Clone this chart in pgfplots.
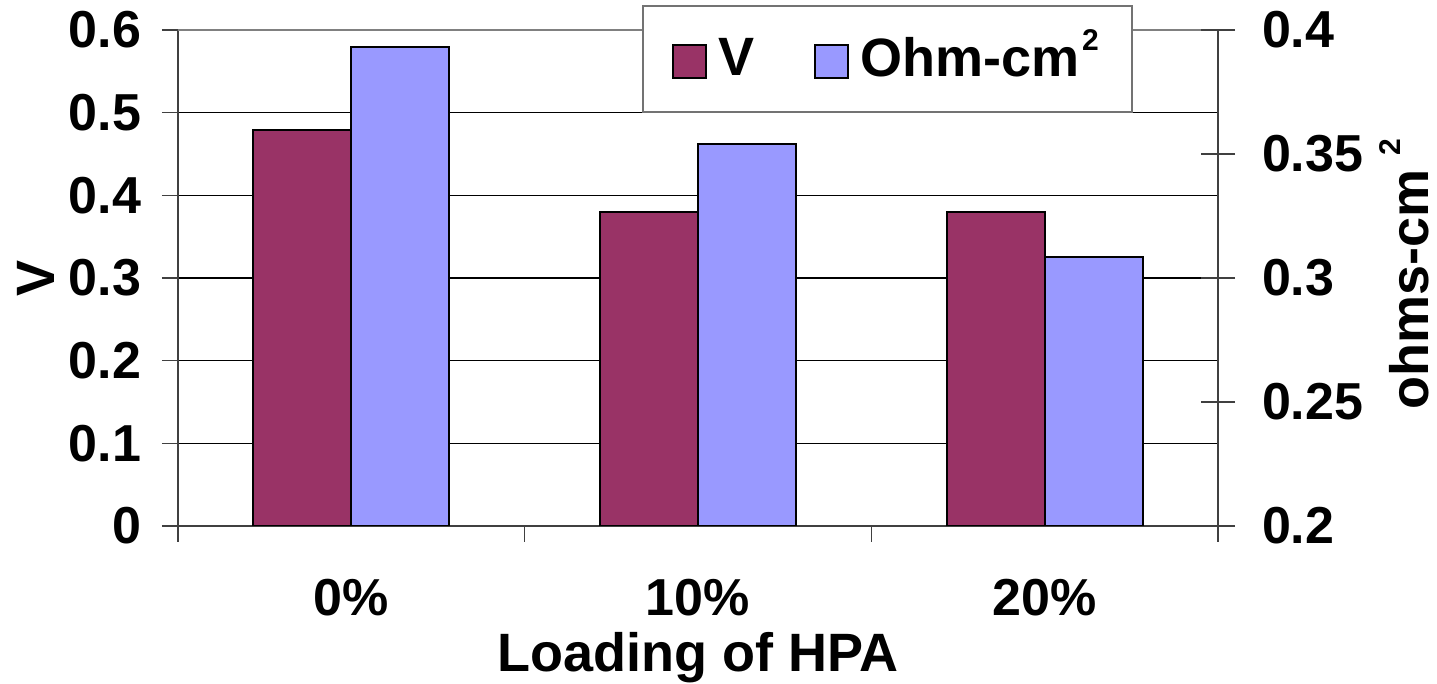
\documentclass[border=0pt]{standalone}
\usepackage{fontspec}
\setmainfont{Liberation Sans}
\usepackage{pgfplots}
\pgfplotsset{compat=1.18}
\definecolor{vcol}{HTML}{993366}
\definecolor{ocol}{HTML}{9999FF}
\newcommand\sqr[2]{\hspace{#1}\raisebox{#2}[0pt][0pt]{\fontsize{15}{15}\selectfont 2}}
\begin{document}
\begin{tikzpicture}
\path[use as bounding box] (-89pt,-79pt) rectangle (629.5pt,263pt);
\pgfplotsset{
  every axis/.append style={font=\fontsize{27}{32}\selectfont\bfseries},
  every tick label/.append style={font=\fontsize{26}{31}\selectfont\bfseries},
  /pgf/number format/assume math mode=true,
}
\begin{axis}[
  at={(0pt,0pt)}, anchor=south west,
  width=520pt, height=248pt, scale only axis,
  xmin=-0.5, xmax=2.5, ymin=0, ymax=0.6,
  axis x line*=bottom, axis y line*=left,
  axis line style={black!75, line width=0.8pt},
  xtick={-0.5,0.5,1.5,2.5}, xticklabels={0\%,10\%,20\%}, x tick label as interval,
  xticklabel style={yshift=-15pt},
  ytick={0,0.1,0.2,0.3,0.4,0.5},
  extra y ticks={0.6},
  extra y tick style={grid style={black!50, line width=0.8pt}},
  yticklabel style={xshift=-7pt},
  ymajorgrids, grid style={black, line width=0.7pt},
  tick style={black!75, line width=0.8pt},
  major tick length=8pt, tick align=outside,
  ybar, bar width=49pt, bar shift=-24.5pt,
  ylabel={V},
  ylabel style={at={(axis description cs:-0.1183,0.5)}, anchor=south, inner sep=0pt},
  xlabel={Loading of HPA},
  xlabel style={at={(axis description cs:0.5,-0.2137)}, anchor=north, inner sep=0pt},
]
\addplot[fill=vcol, draw=black, line width=1pt] coordinates {(0,0.479) (1,0.380) (2,0.380)};
\end{axis}
\begin{axis}[
  at={(0pt,0pt)}, anchor=south west,
  width=520pt, height=248pt, scale only axis,
  xmin=-0.5, xmax=2.5, ymin=0.2, ymax=0.4,
  axis x line=none, axis y line*=right,
  axis line style={black!75, line width=0.8pt},
  ytick={0.2,0.25,0.3,0.35,0.4},
  yticklabel style={xshift=10pt},
  tick style={black!75, line width=0.8pt},
  tick align=center, major tick length=17pt,
  ybar, bar width=49pt, bar shift=24.5pt,
  ylabel={ohms-cm\sqr{7pt}{14pt}},
  ylabel style={at={(axis description cs:1.2029,0.507)}, anchor=south, inner sep=0pt},
  legend columns=2,
  legend style={at={(0.918,1)}, anchor=north east, yshift=12.5pt,
    draw=black!55, line width=0.8pt, fill=white, inner xsep=14.5pt, inner ysep=14pt,
    font=\fontsize{27}{32}\selectfont\bfseries,
    /tikz/every even column/.append style={column sep=28pt}},
  legend image code/.code={\draw[#1, line width=1pt] (0pt,-9.75pt) rectangle (16.5pt,6.75pt);
    \path[draw=none, fill=none] (16.5pt,0pt) -- (20.5pt,0pt);},
]
\addlegendimage{fill=vcol, draw=black}
\addplot[fill=ocol, draw=black, line width=1pt] coordinates {(0,0.393) (1,0.354) (2,0.3085)};
\legend{V, Ohm-cm\sqr{1.5pt}{13pt}\hspace{4pt}}
\end{axis}
\end{tikzpicture}
\end{document}
